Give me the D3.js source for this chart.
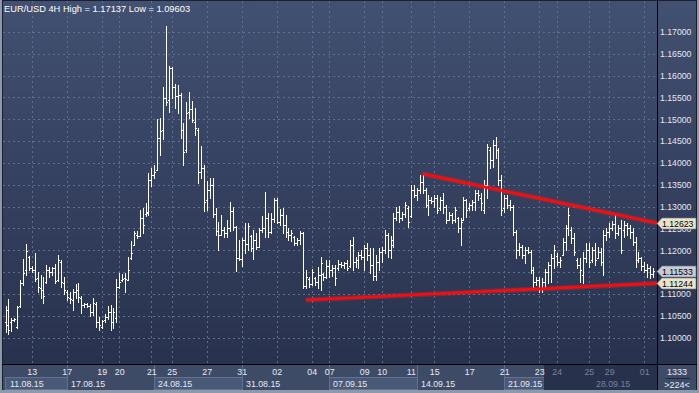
<!DOCTYPE html>
<html>
<head>
<meta charset="utf-8">
<script src="https://cdn.jsdelivr.net/npm/d3@7"></script>
<style>
  body { margin: 0; background: #2b3450; }
  svg { display: block; }
  text { font-family: "Liberation Sans", Arial, sans-serif; }
</style>
</head>
<body>
<script>
// EUR/USD 4H bars, 11.08.15 12:00 .. 01.10.15 12:00 (one value per bar)
var openP = [
  1.1036,1.1029,1.1036,1.1040,1.1025,1.1073,1.1125,1.1155,1.1185,1.1160,
  1.1155,1.1137,1.1114,1.1109,1.1128,1.1155,1.1150,1.1160,1.1132,1.1173,
  1.1125,1.1105,1.1091,1.1086,1.1105,1.1109,1.1091,1.1075,1.1077,1.1073,
  1.1059,1.1077,1.1036,1.1025,1.1040,1.1047,1.1059,1.1036,1.1045,1.1116,
  1.1132,1.1137,1.1132,1.1183,1.1212,1.1235,1.1233,1.1274,1.1283,1.1286,
  1.1361,1.1373,1.1384,1.1457,1.1476,1.1549,1.1544,1.1618,1.1574,1.1553,
  1.1556,1.1476,1.1430,1.1517,1.1524,1.1494,1.1476,1.1379,1.1389,1.1315,
  1.1338,1.1350,1.1283,1.1244,1.1235,1.1247,1.1240,1.1251,1.1290,1.1253,
  1.1183,1.1180,1.1224,1.1215,1.1233,1.1205,1.1224,1.1208,1.1247,1.1251,
  1.1274,1.1242,1.1272,1.1315,1.1265,1.1281,1.1258,1.1242,1.1235,1.1231,
  1.1217,1.1224,1.1240,1.1118,1.1134,1.1123,1.1137,1.1128,1.1144,1.1146,
  1.1139,1.1164,1.1155,1.1160,1.1160,1.1169,1.1167,1.1171,1.1164,1.1212,
  1.1173,1.1178,1.1189,1.1185,1.1205,1.1189,1.1167,1.1141,1.1173,1.1196,
  1.1201,1.1235,1.1201,1.1212,1.1274,1.1288,1.1274,1.1283,1.1297,1.1279,
  1.1338,1.1327,1.1338,1.1357,1.1338,1.1304,1.1315,1.1313,1.1320,1.1297,
  1.1315,1.1299,1.1270,1.1281,1.1270,1.1274,1.1251,1.1270,1.1315,1.1297,
  1.1304,1.1311,1.1331,1.1320,1.1292,1.1350,1.1430,1.1407,1.1441,1.1430,
  1.1361,1.1297,1.1320,1.1304,1.1299,1.1242,1.1201,1.1208,1.1189,1.1201,
  1.1196,1.1155,1.1128,1.1132,1.1114,1.1128,1.1150,1.1167,1.1183,1.1187,
  1.1173,1.1189,1.1219,1.1251,1.1247,1.1228,1.1178,1.1167,1.1144,1.1183,
  1.1201,1.1178,1.1201,1.1183,1.1196,1.1173,1.1235,1.1242,1.1251,1.1260,
  1.1240,1.1251,1.1247,1.1258,1.1251,1.1242,1.1219,1.1178,1.1183,1.1164,
  1.1155,1.1160,1.1146
];
var highP = [
  1.1073,1.1089,1.1045,1.1045,1.1073,1.1132,1.1180,1.1215,1.1187,1.1164,
  1.1194,1.1150,1.1144,1.1139,1.1167,1.1162,1.1162,1.1169,1.1189,1.1178,
  1.1139,1.1109,1.1105,1.1112,1.1123,1.1125,1.1096,1.1079,1.1079,1.1077,
  1.1091,1.1082,1.1047,1.1040,1.1054,1.1073,1.1075,1.1068,1.1134,1.1148,
  1.1146,1.1148,1.1185,1.1221,1.1244,1.1244,1.1292,1.1297,1.1308,1.1377,
  1.1389,1.1396,1.1501,1.1503,1.1574,1.1714,1.1622,1.1620,1.1581,1.1579,
  1.1560,1.1492,1.1540,1.1563,1.1542,1.1526,1.1480,1.1439,1.1396,1.1359,
  1.1366,1.1366,1.1297,1.1265,1.1281,1.1253,1.1270,1.1311,1.1299,1.1256,
  1.1224,1.1228,1.1263,1.1263,1.1235,1.1247,1.1240,1.1251,1.1279,1.1334,
  1.1286,1.1286,1.1320,1.1320,1.1295,1.1297,1.1281,1.1251,1.1247,1.1233,
  1.1228,1.1244,1.1242,1.1155,1.1139,1.1157,1.1139,1.1162,1.1185,1.1148,
  1.1178,1.1178,1.1167,1.1167,1.1178,1.1173,1.1173,1.1178,1.1224,1.1231,
  1.1185,1.1196,1.1201,1.1212,1.1217,1.1205,1.1205,1.1189,1.1205,1.1208,
  1.1247,1.1240,1.1233,1.1286,1.1299,1.1302,1.1288,1.1311,1.1302,1.1350,
  1.1350,1.1342,1.1373,1.1375,1.1342,1.1327,1.1322,1.1327,1.1327,1.1322,
  1.1331,1.1304,1.1288,1.1286,1.1299,1.1276,1.1274,1.1322,1.1318,1.1308,
  1.1315,1.1338,1.1338,1.1331,1.1361,1.1444,1.1437,1.1453,1.1460,1.1434,
  1.1373,1.1327,1.1327,1.1315,1.1304,1.1247,1.1217,1.1212,1.1208,1.1208,
  1.1201,1.1162,1.1139,1.1139,1.1137,1.1157,1.1173,1.1192,1.1212,1.1194,
  1.1185,1.1228,1.1258,1.1297,1.1253,1.1240,1.1183,1.1183,1.1196,1.1217,
  1.1217,1.1208,1.1217,1.1208,1.1205,1.1247,1.1251,1.1263,1.1267,1.1281,
  1.1258,1.1270,1.1267,1.1263,1.1258,1.1251,1.1231,1.1196,1.1185,1.1173,
  1.1169,1.1164,1.1160
];
var lowP = [
  1.1013,1.1008,1.1015,1.1038,1.1022,1.1070,1.1121,1.1144,1.1155,1.1150,
  1.1130,1.1105,1.1091,1.1079,1.1125,1.1139,1.1144,1.1125,1.1130,1.1116,
  1.1100,1.1086,1.1079,1.1063,1.1091,1.1082,1.1057,1.1070,1.1070,1.1050,
  1.1052,1.1025,1.1018,1.1022,1.1036,1.1043,1.1018,1.1022,1.1036,1.1114,
  1.1130,1.1105,1.1132,1.1180,1.1212,1.1228,1.1233,1.1240,1.1279,1.1281,
  1.1347,1.1366,1.1384,1.1418,1.1455,1.1533,1.1517,1.1549,1.1526,1.1514,
  1.1457,1.1396,1.1425,1.1503,1.1494,1.1464,1.1354,1.1366,1.1290,1.1292,
  1.1320,1.1276,1.1235,1.1201,1.1235,1.1231,1.1231,1.1244,1.1247,1.1153,
  1.1178,1.1164,1.1194,1.1201,1.1199,1.1180,1.1203,1.1208,1.1242,1.1231,
  1.1231,1.1240,1.1265,1.1263,1.1258,1.1240,1.1231,1.1224,1.1221,1.1212,
  1.1212,1.1215,1.1114,1.1114,1.1116,1.1121,1.1121,1.1114,1.1109,1.1132,
  1.1137,1.1139,1.1141,1.1121,1.1155,1.1162,1.1160,1.1155,1.1162,1.1155,
  1.1162,1.1160,1.1180,1.1155,1.1178,1.1148,1.1132,1.1132,1.1155,1.1173,
  1.1194,1.1185,1.1183,1.1208,1.1270,1.1265,1.1270,1.1276,1.1253,1.1276,
  1.1322,1.1315,1.1331,1.1331,1.1299,1.1281,1.1308,1.1299,1.1286,1.1292,
  1.1286,1.1263,1.1270,1.1263,1.1265,1.1242,1.1212,1.1270,1.1276,1.1292,
  1.1292,1.1292,1.1315,1.1292,1.1286,1.1320,1.1389,1.1391,1.1412,1.1350,
  1.1281,1.1288,1.1297,1.1292,1.1235,1.1183,1.1189,1.1183,1.1171,1.1194,
  1.1148,1.1114,1.1121,1.1105,1.1105,1.1114,1.1125,1.1128,1.1160,1.1167,
  1.1162,1.1189,1.1201,1.1235,1.1217,1.1189,1.1160,1.1128,1.1125,1.1173,
  1.1162,1.1173,1.1167,1.1183,1.1167,1.1144,1.1224,1.1231,1.1247,1.1228,
  1.1235,1.1194,1.1231,1.1235,1.1228,1.1212,1.1162,1.1173,1.1155,1.1150,
  1.1139,1.1137,1.1139
];
var closeP = [
  1.1063,1.1018,1.1040,1.1043,1.1070,1.1125,1.1148,1.1199,1.1160,1.1155,
  1.1134,1.1116,1.1109,1.1096,1.1155,1.1150,1.1160,1.1130,1.1178,1.1128,
  1.1109,1.1093,1.1089,1.1105,1.1109,1.1093,1.1075,1.1077,1.1073,1.1059,
  1.1079,1.1036,1.1029,1.1038,1.1047,1.1059,1.1036,1.1059,1.1116,1.1128,
  1.1134,1.1134,1.1155,1.1194,1.1240,1.1233,1.1274,1.1258,1.1288,1.1361,
  1.1373,1.1379,1.1457,1.1473,1.1549,1.1540,1.1618,1.1574,1.1553,1.1556,
  1.1476,1.1425,1.1514,1.1524,1.1498,1.1480,1.1379,1.1389,1.1311,1.1338,
  1.1350,1.1283,1.1244,1.1235,1.1247,1.1240,1.1251,1.1290,1.1253,1.1183,
  1.1180,1.1224,1.1215,1.1256,1.1205,1.1224,1.1208,1.1247,1.1251,1.1274,
  1.1242,1.1272,1.1315,1.1265,1.1281,1.1258,1.1242,1.1235,1.1240,1.1217,
  1.1224,1.1240,1.1118,1.1139,1.1123,1.1150,1.1128,1.1144,1.1171,1.1139,
  1.1164,1.1155,1.1160,1.1137,1.1169,1.1167,1.1171,1.1160,1.1212,1.1173,
  1.1178,1.1189,1.1185,1.1205,1.1189,1.1167,1.1141,1.1173,1.1196,1.1201,
  1.1235,1.1201,1.1224,1.1274,1.1288,1.1274,1.1283,1.1304,1.1265,1.1338,
  1.1327,1.1338,1.1357,1.1338,1.1304,1.1315,1.1313,1.1320,1.1292,1.1315,
  1.1299,1.1270,1.1281,1.1270,1.1292,1.1251,1.1265,1.1315,1.1292,1.1304,
  1.1311,1.1331,1.1327,1.1308,1.1350,1.1437,1.1407,1.1441,1.1430,1.1361,
  1.1292,1.1320,1.1304,1.1299,1.1242,1.1201,1.1208,1.1189,1.1201,1.1196,
  1.1155,1.1128,1.1132,1.1114,1.1128,1.1150,1.1167,1.1183,1.1201,1.1173,
  1.1178,1.1219,1.1251,1.1281,1.1228,1.1196,1.1167,1.1155,1.1183,1.1201,
  1.1173,1.1201,1.1178,1.1196,1.1173,1.1235,1.1242,1.1251,1.1260,1.1240,
  1.1251,1.1201,1.1258,1.1251,1.1242,1.1219,1.1178,1.1183,1.1164,1.1155,
  1.1160,1.1146,1.1153
];

var priceTicks = [1.100, 1.105, 1.110, 1.115, 1.120, 1.125, 1.130, 1.135,
                  1.140, 1.145, 1.150, 1.155, 1.160, 1.165, 1.170];

// day labels and the bar they sit on
var dayIdx    = [9, 21, 33, 39, 50, 57, 69, 81, 93, 105, 111, 123, 129, 139, 147, 159, 171, 183, 189, 200, 207, 219];
var dayLabels = ["13","17","19","20","21","25","27","31","02","04","07","09","10","11","15","17","21","23","24","25","29","01"];

// weeks (first bar of each week)
var weekIdx    = [0, 21, 51, 81, 111, 141, 171, 201];
var weekLabels = ["11.08.15","17.08.15","24.08.15","31.08.15","07.09.15","14.09.15","21.09.15","28.09.15"];

// trend lines: [bar index, price]
var resistance = [[143, 1.1375], [223.35, 1.12623]];
var support    = [[103, 1.1086], [223.35, 1.11244]];
var lastPrice  = 1.11533;
var greyFrom   = 184.5;   // bar index where the dimmed part of the time scale starts

var title = "EUR/USD 4H High = 1.17137 Low = 1.09603";

window.onload = function() {
    var W = 699, H = 393;
    var plotR = 657, plotB = 364;

    var x = d3.scaleLinear().domain([0, 222]).range([5.5, 653.0]);
    var y = d3.scaleLinear().domain([1.10, 1.17]).range([337.6, 32]);

    var svg = d3.select("body").append("svg")
        .attr("width", W)
        .attr("height", H);

    var defs = svg.append("defs");
    var grad = defs.append("linearGradient").attr("id", "bg")
        .attr("x1", 0).attr("y1", 0).attr("x2", 0).attr("y2", 1);
    grad.append("stop").attr("offset", "0%").attr("stop-color", "#425071");
    grad.append("stop").attr("offset", "100%").attr("stop-color", "#28324e");

    // frame + background
    svg.append("rect").attr("width", W).attr("height", H).attr("fill", "#8c98ac");
    svg.append("rect").attr("x", 2).attr("y", 0).attr("width", 695).attr("height", 390).attr("fill", "#1a2030");
    svg.append("rect").attr("x", 3).attr("y", 1).attr("width", 693).attr("height", plotB - 1).attr("fill", "url(#bg)");

    // bottom strip
    svg.append("rect").attr("x", 3).attr("y", plotB + 1).attr("width", plotR - 3).attr("height", 25)
        .attr("fill", "#3d4b67");
    svg.append("rect").attr("x", plotR + 1).attr("y", plotB + 1).attr("width", 38).attr("height", 25)
        .attr("fill", "#3d4b67");

    // grid
    var grid = svg.append("g").attr("shape-rendering", "crispEdges")
        .attr("stroke", "#5e6e90").attr("stroke-dasharray", "2,3");
    grid.selectAll(".hg").data(priceTicks).enter().append("line")
        .attr("x1", 3).attr("x2", plotR)
        .attr("y1", function(d) { return Math.round(y(d)) + 0.5; })
        .attr("y2", function(d) { return Math.round(y(d)) + 0.5; });
    grid.selectAll(".vg").data(dayIdx).enter().append("line")
        .attr("y1", 1).attr("y2", plotB)
        .attr("x1", function(d) { return Math.round(x(d)) + 0.5; })
        .attr("x2", function(d) { return Math.round(x(d)) + 0.5; });

    // OHLC bars
    var bars = svg.append("g").attr("fill", "#ffffff").attr("shape-rendering", "crispEdges");
    var idx = d3.range(openP.length);
    idx.forEach(function(i) {
        var xi = Math.round(x(i));
        var yh = Math.round(y(highP[i])), yl = Math.round(y(lowP[i]));
        bars.append("rect").attr("x", xi).attr("y", yh).attr("width", 1).attr("height", Math.max(1, yl - yh + 1));
        bars.append("rect").attr("x", xi - 1).attr("y", Math.round(y(openP[i]))).attr("width", 1).attr("height", 1);
        bars.append("rect").attr("x", xi + 1).attr("y", Math.round(y(closeP[i]))).attr("width", 1).attr("height", 1);
    });

    // trend lines
    var tl = d3.line().x(function(d) { return x(d[0]); }).y(function(d) { return y(d[1]); });
    [resistance, support].forEach(function(t) {
        svg.append("path").attr("d", tl(t)).attr("stroke", "#ff2020").attr("stroke-opacity", 0.3)
            .attr("stroke-width", 5).attr("fill", "none");
        svg.append("path").attr("d", tl(t)).attr("stroke", "#ff0a0a")
            .attr("stroke-width", 2.6).attr("fill", "none");
    });

    // price tags (values at the right edge)
    var tags = [
        { v: resistance[1][1], fill: "#e8e4ca" },
        { v: lastPrice,        fill: "#c7cbd5" },
        { v: support[1][1],    fill: "#e8e4ca" }
    ];

    // right price axis; a label fully hidden under a tag is left out
    var shown = priceTicks.filter(function(p) {
        return !tags.some(function(t) { return Math.abs(y(p) - y(t.v)) < 3; });
    });
    var ax = svg.append("g").attr("transform", "translate(" + plotR + ",0)")
        .call(d3.axisRight(y).tickValues(shown).tickFormat(d3.format(".5f")).tickSize(0).tickPadding(3));
    ax.select(".domain").remove();
    ax.selectAll("text").attr("fill", "#e4e8f0").style("font-size", "8.7px")
        .style("font-family", "'Liberation Sans', Arial, sans-serif");

    // week boxes in the bottom strip
    var wk = svg.append("g").attr("shape-rendering", "crispEdges");
    weekIdx.forEach(function(w, k) {
        var x0 = k === 0 ? 5 : Math.round(x(w)) + 0.5;
        var x1 = k < weekIdx.length - 1 ? Math.round(x(weekIdx[k + 1])) + 0.5 : plotR;
        if (k % 2 === 0) {
            wk.append("rect").attr("x", x0).attr("y", 377.5).attr("width", x1 - x0).attr("height", 12)
                .attr("fill", "#4a5977").attr("stroke", "#63728f");
        }
    });
    // dimmed part
    svg.append("rect").attr("x", Math.round(x(greyFrom))).attr("y", plotB + 1)
        .attr("width", plotR - Math.round(x(greyFrom))).attr("height", 25).attr("fill", "#27314b");
    weekIdx.slice(1).forEach(function(w) {
        var xx = Math.round(x(w)) + 0.5;
        wk.append("line").attr("x1", xx).attr("x2", xx).attr("y1", plotB + 1).attr("y2", 390)
            .attr("stroke", w > greyFrom ? "#3a4560" : "#61708e");
    });

    // day labels
    var bx = svg.append("g").attr("transform", "translate(0," + (plotB + 1) + ")")
        .call(d3.axisBottom(x).tickValues(dayIdx)
            .tickFormat(function(d, k) { return dayLabels[k]; })
            .tickSize(0).tickPadding(4));
    bx.select(".domain").remove();
    bx.selectAll("text")
        .attr("fill", function(d) { return d > greyFrom ? "#77829a" : "#e6eaf2"; })
        .style("font-size", "8.8px")
        .style("font-family", "'Liberation Sans', Arial, sans-serif");

    // week labels
    svg.selectAll(".wl").data(weekIdx).enter().append("text")
        .attr("x", function(d, k) { return k === 0 ? 10 : Math.round(x(d)) + 4; })
        .attr("y", 386.5)
        .attr("fill", function(d) { return d > greyFrom ? "#77829a" : "#e6eaf2"; })
        .style("font-size", "8.8px")
        .text(function(d, k) { return weekLabels[k]; });

    // black separators
    svg.append("line").attr("x1", 2).attr("x2", 697).attr("y1", plotB + 0.5).attr("y2", plotB + 0.5)
        .attr("stroke", "#000").attr("shape-rendering", "crispEdges");
    svg.append("line").attr("x1", plotR + 0.5).attr("x2", plotR + 0.5).attr("y1", 0).attr("y2", 390)
        .attr("stroke", "#000").attr("shape-rendering", "crispEdges");

    // bottom right counters
    svg.append("text").attr("x", 677).attr("y", 375).attr("text-anchor", "middle")
        .attr("fill", "#e6eaf2").style("font-size", "9px").text("1333");
    svg.append("line").attr("x1", 666).attr("x2", 690).attr("y1", 378.5).attr("y2", 378.5)
        .attr("stroke", "#1e2638").attr("shape-rendering", "crispEdges");
    svg.append("text").attr("x", 677).attr("y", 387.5).attr("text-anchor", "middle")
        .attr("fill", "#e6eaf2").style("font-size", "9px").text(">224<");

    tags.forEach(function(t) {
        var yc = Math.round(y(t.v)) + 0.5;
        svg.append("path")
            .attr("d", "M" + plotR + "," + yc + "L" + (plotR + 5) + "," + (yc - 5.5) + "H696V" + (yc + 5.5) + "H" + (plotR + 5) + "Z")
            .attr("fill", t.fill).attr("stroke", "#6f7484").attr("stroke-width", 0.6);
        svg.append("text").attr("x", plotR + 5).attr("y", yc + 3.2)
            .attr("fill", "#000").style("font-size", "8.7px")
            .text(d3.format(".5f")(t.v));
    });

    // title
    svg.append("text").attr("x", 4).attr("y", 12)
        .attr("fill", "#ffffff").style("font-size", "9.3px")
        .text(title);
};
</script>
</body>
</html>
